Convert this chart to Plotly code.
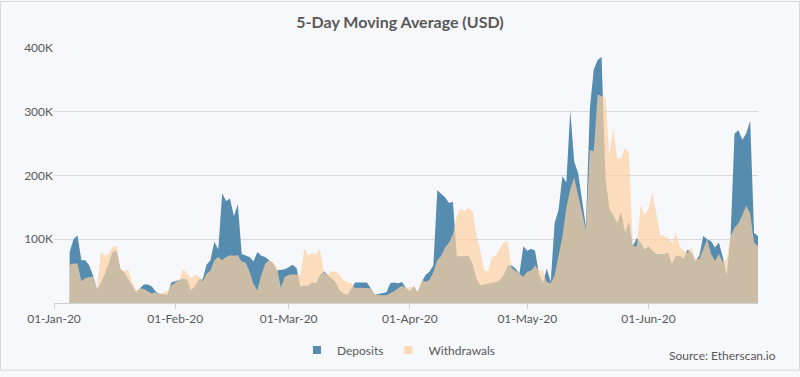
import pandas as pd
import plotly.graph_objects as go

# 5-day moving average, daily from 2020-01-05 to 2020-06-29 (thousand USD)
start_date = "2020-01-05"
deposits_k = [
    80, 100, 106, 67, 67, 59, 43, 21, 32, 46, 63, 80, 82, 53, 48, 38, 28, 17, 23, 29,
    29, 26, 18, 14, 14, 13, 32, 34, 37, 38, 37, 20, 26, 37, 37, 60, 67, 96, 84, 172,
    160, 164, 136, 155, 77, 74, 72, 65, 80, 74, 72, 67, 62, 51, 52, 53, 56, 60, 55, 26,
    27, 27, 32, 31, 44, 50, 44, 38, 33, 20, 15, 13, 23, 32, 32, 32, 32, 23, 13, 14,
    15, 17, 31, 32, 31, 33, 23, 19, 26, 17, 33, 44, 49, 59, 177, 172, 166, 157, 159, 73,
    73, 73, 74, 62, 38, 28, 29, 31, 32, 33, 36, 44, 59, 59, 54, 46, 89, 82, 85, 82,
    45, 31, 54, 33, 125, 146, 199, 189, 302, 222, 204, 161, 120, 304, 366, 381, 386, 197, 148, 138,
    125, 143, 110, 128, 89, 102, 95, 84, 89, 82, 77, 77, 77, 79, 61, 74, 74, 70, 84, 79,
    66, 74, 105, 100, 97, 87, 95, 72, 43, 105, 266, 271, 256, 266, 286, 110, 105,
]
withdrawals_k = [
    60, 62, 62, 34, 39, 41, 42, 22, 80, 74, 77, 88, 90, 52, 51, 52, 33, 20, 23, 22,
    19, 15, 17, 14, 17, 19, 28, 32, 36, 53, 47, 38, 44, 42, 34, 46, 51, 67, 72, 67,
    72, 75, 74, 75, 65, 63, 50, 30, 20, 44, 62, 67, 64, 56, 24, 41, 44, 45, 44, 44,
    85, 74, 78, 77, 84, 48, 44, 50, 49, 44, 36, 32, 31, 23, 24, 24, 24, 23, 13, 12,
    12, 12, 15, 19, 23, 27, 23, 25, 26, 18, 37, 33, 36, 49, 67, 74, 87, 95, 108, 136,
    148, 144, 149, 144, 108, 82, 51, 50, 72, 74, 86, 95, 97, 55, 51, 46, 41, 49, 51, 59,
    51, 51, 33, 31, 43, 74, 105, 150, 179, 197, 171, 141, 115, 240, 238, 327, 325, 322, 233, 276,
    227, 227, 243, 235, 89, 89, 153, 138, 148, 174, 141, 107, 105, 102, 95, 110, 89, 82, 79, 87,
    69, 69, 84, 100, 77, 66, 77, 64, 70, 105, 118, 125, 138, 153, 140, 95, 89,
]
y_tick_vals = [100000, 200000, 300000, 400000]
y_tick_text = ["100K", "200K", "300K", "400K"]
x_tick_vals = ["2020-01-01", "2020-02-01", "2020-03-01", "2020-04-01", "2020-05-01", "2020-06-01"]
x_tick_text = ["01-Jan-20", "01-Feb-20", "01-Mar-20", "01-Apr-20", "01-May-20", "01-Jun-20"]

dates = pd.date_range(start_date, periods=len(deposits_k), freq="D")
deposits = [v * 1000 for v in deposits_k]
withdrawals = [v * 1000 for v in withdrawals_k]

BG = "#f6f8fc"
TXT = "#595959"
FONT = "Lato, Open Sans, sans-serif"
BLUE = "#558caf"
PEACH = "rgba(254,208,162,0.7)"
PEACH_SOLID = "#fdd9b5"

fig = go.Figure()
fig.add_trace(go.Scatter(
    x=dates, y=deposits, name="Deposits", mode="lines", showlegend=False,
    line=dict(width=0, color=BLUE), fill="tozeroy", fillcolor=BLUE,
))
fig.add_trace(go.Scatter(
    x=dates, y=withdrawals, name="Withdrawals", mode="lines", showlegend=False,
    line=dict(width=0, color=PEACH), fill="tozeroy", fillcolor=PEACH,
))
# legend entries (square swatches)
fig.add_trace(go.Scatter(x=[None], y=[None], name="Deposits", mode="markers",
                         marker=dict(symbol="square", size=8, color=BLUE)))
fig.add_trace(go.Scatter(x=[None], y=[None], name="Withdrawals", mode="markers",
                         marker=dict(symbol="square", size=8, color=PEACH_SOLID)))

W, H = 800, 377
ml, mr, mt, mb = 54, 42, 48, 69
pw, ph = W - ml - mr, H - mt - mb

fig.update_layout(
    width=W, height=H,
    margin=dict(l=ml, r=mr, t=mt, b=mb),
    paper_bgcolor=BG, plot_bgcolor=BG,
    font=dict(family=FONT, color=TXT, size=11),
    title=dict(text="<b>5-Day Moving Average (USD)</b>", x=0.5, xanchor="center",
               y=1 - 22 / H, yanchor="middle", font=dict(size=16, color=TXT, family=FONT)),
    showlegend=True,
    legend=dict(orientation="h", x=0.49, xanchor="center", y=-(356 - 308) / ph,
                yanchor="middle", font=dict(size=12, color=TXT), traceorder="normal",
                bgcolor="rgba(0,0,0,0)", itemwidth=30, tracegroupgap=0),
    xaxis=dict(
        type="date", range=["2020-01-01", "2020-06-29"],
        tickvals=x_tick_vals, ticktext=x_tick_text,
        showgrid=False, showline=True, linecolor="#d0d0d0", linewidth=1,
        ticks="outside", ticklen=5, tickcolor="#d0d0d0",
        tickfont=dict(size=12, color=TXT), zeroline=False,
    ),
    yaxis=dict(
        range=[0, 400000], tickvals=y_tick_vals, ticktext=y_tick_text,
        showgrid=True, gridcolor="#d9d9d9", gridwidth=1, zeroline=False,
        showline=False, tickfont=dict(size=12, color=TXT), ticks="",
    ),
    annotations=[dict(
        text="Source: Etherscan.io", xref="paper", yref="paper",
        x=1 + (778 - (W - mr)) / pw, xanchor="right",
        y=-(362 - (H - mb)) / ph, yanchor="middle", showarrow=False,
        font=dict(size=12, color=TXT, family=FONT),
    )],
    shapes=[dict(
        type="rect", xref="paper", yref="paper",
        x0=-(ml - 0.5) / pw, x1=1 + (mr - 0.5) / pw,
        y0=-(mb - 0.5) / ph, y1=1 + (mt - 0.5) / ph,
        line=dict(color="#d9d9d9", width=1), fillcolor="rgba(0,0,0,0)", layer="below",
    )],
)

fig.write_html("out.html", config={"displayModeBar": False},
               post_script="document.body.style.margin='0';")
